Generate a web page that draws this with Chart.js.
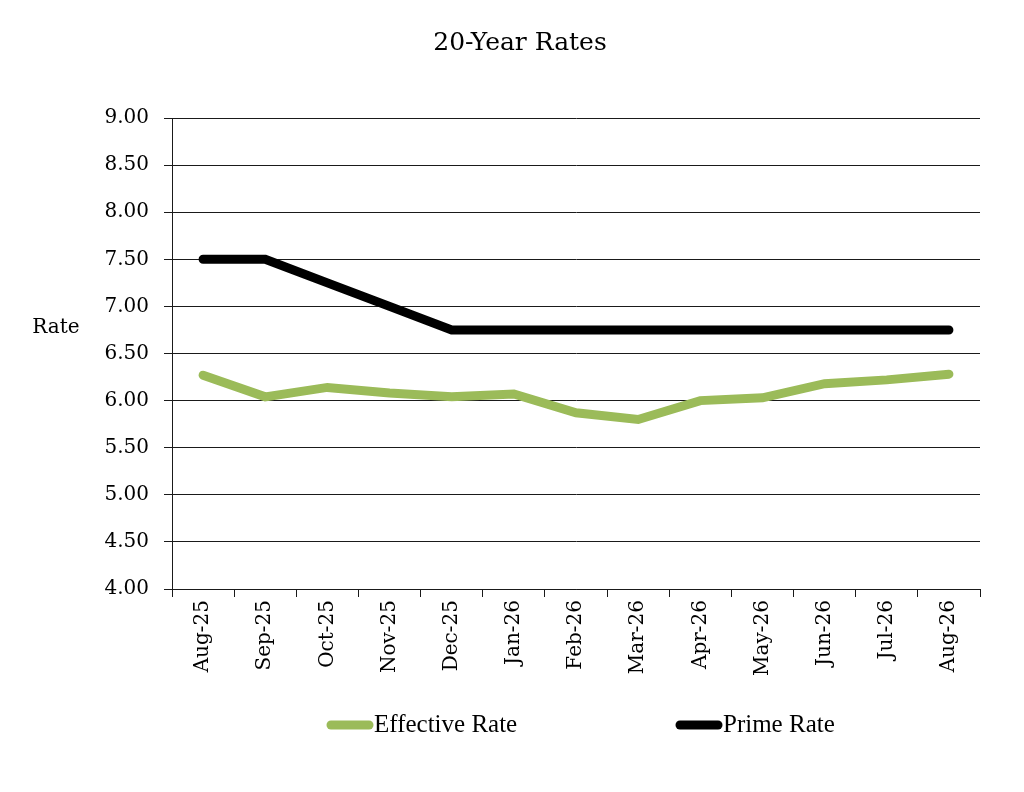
<!DOCTYPE html>
<html>
<head>
<meta charset="utf-8">
<title>20-Year Rates</title>
<script src="https://cdn.jsdelivr.net/npm/chart.js@4.4.1/dist/chart.umd.min.js"></script>
<style>
  html, body { margin: 0; padding: 0; background: #fff; }
  #chart { display: block; }
</style>
</head>
<body>
<canvas id="chart" width="1024" height="792"></canvas>
<script>
const months = ['Aug-25', 'Sep-25', 'Oct-25', 'Nov-25', 'Dec-25', 'Jan-26', 'Feb-26',
    'Mar-26', 'Apr-26', 'May-26', 'Jun-26', 'Jul-26', 'Aug-26']
const effectiveRate = [6.27, 6.04, 6.14, 6.08, 6.04, 6.07, 5.87, 5.80, 6.00, 6.03, 6.18, 6.22, 6.28]
const primeRate = [7.50, 7.50, 7.25, 7.00, 6.75, 6.75, 6.75, 6.75, 6.75, 6.75, 6.75, 6.75, 6.75]
const seriesNames = ['Effective Rate', 'Prime Rate']
const yMin = 4
const yMax = 9
const yStep = 0.5

const serif = "'DejaVu Serif', serif"
const gridColor = '#1a1a1a'

// titulo do eixo y na horizontal, como no original
const yTitlePlugin = {
    id: 'yTitle',
    afterDraw(chart, args, opts) {
        const ctx = chart.ctx
        ctx.save()
        ctx.font = opts.font
        ctx.fillStyle = '#000'
        ctx.textAlign = 'center'
        ctx.textBaseline = 'middle'
        ctx.fillText(opts.text, opts.x, opts.y)
        ctx.restore()
    }
}

// legenda com espacamento largo entre os itens
const lineLegendPlugin = {
    id: 'lineLegend',
    afterDraw(chart, args, opts) {
        const ctx = chart.ctx
        ctx.save()
        ctx.font = opts.font
        ctx.textBaseline = 'middle'
        ctx.textAlign = 'left'
        chart.data.datasets.forEach((ds, i) => {
            const x = opts.itemX[i]
            ctx.strokeStyle = ds.borderColor
            ctx.lineWidth = 9
            ctx.lineCap = 'round'
            ctx.beginPath()
            ctx.moveTo(x + 5, opts.y)
            ctx.lineTo(x + 43, opts.y)
            ctx.stroke()
            ctx.fillStyle = '#000'
            ctx.fillText(ds.label, x + 48, opts.y)
        })
        ctx.restore()
    }
}

new Chart(document.getElementById('chart'), {
    type: 'line',
    data: {
        labels: months,
        datasets: [{
            label: seriesNames[0],
            data: effectiveRate,
            borderColor: '#9BBB59',
            borderWidth: 9,
            borderCapStyle: 'round',
            pointRadius: 0,
            tension: 0
        }, {
            label: seriesNames[1],
            data: primeRate,
            borderColor: '#000000',
            borderWidth: 9,
            borderCapStyle: 'round',
            pointRadius: 0,
            tension: 0
        }]
    },
    options: {
        responsive: false,
        devicePixelRatio: 1,
        animation: false,
        layout: { padding: { top: 0, left: 60, right: 44, bottom: 0 } },
        plugins: {
            legend: { display: false },
            tooltip: { enabled: false },
            title: {
                display: true,
                text: '20-Year Rates',
                color: '#000',
                font: { family: serif, size: 25, weight: 'normal' },
                padding: { top: 28, bottom: 60 }
            },
            yTitle: { text: 'Rate', x: 56, y: 328, font: "20px 'DejaVu Serif', serif" },
            lineLegend: { itemX: [326, 675], y: 725, font: "25px 'Liberation Serif', serif" }
        },
        scales: {
            x: {
                offset: true,
                afterFit(scale) { scale.height = 203 },
                grid: {
                    offset: true,
                    drawOnChartArea: false,
                    drawTicks: true,
                    tickLength: 8,
                    color: gridColor
                },
                border: { display: true, color: gridColor },
                ticks: {
                    autoSkip: false,
                    maxRotation: 90,
                    minRotation: 90,
                    padding: 3,
                    color: '#000',
                    font: { family: serif, size: 20 }
                }
            },
            y: {
                min: yMin,
                max: yMax,
                afterFit(scale) { scale.width = 112 },
                grid: {
                    color: gridColor,
                    drawTicks: true,
                    tickLength: 8
                },
                border: { display: true, color: gridColor },
                ticks: {
                    stepSize: yStep,
                    padding: 15,
                    color: '#000',
                    font: { family: serif, size: 20 },
                    callback: v => v.toFixed(2)
                }
            }
        }
    },
    plugins: [yTitlePlugin, lineLegendPlugin]
})
</script>
</body>
</html>
